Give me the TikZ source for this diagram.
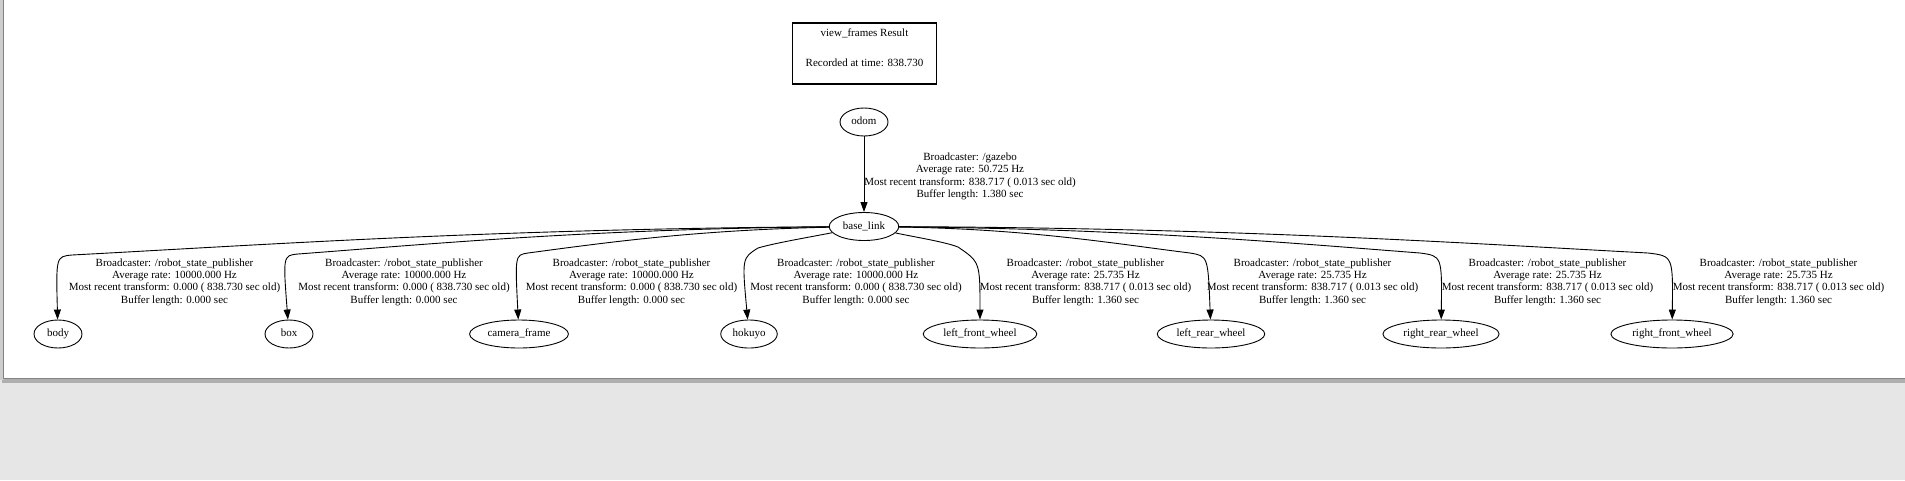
\documentclass[tikz,border=0pt]{standalone}
\usepackage{fontspec}
\setmainfont{Liberation Serif}
\usetikzlibrary{shapes.geometric,arrows.meta}
\definecolor{viewerbg}{RGB}{230,230,230}
\definecolor{pageedge}{RGB}{205,205,205}
\definecolor{pageshadow}{RGB}{130,130,130}
\definecolor{shadowband}{RGB}{175,175,175}
\newcommand\tffont{\fontsize{11}{12.3}\selectfont}
\tikzset{
  tfframe/.style={draw,ellipse,line width=0.9pt,minimum width=48pt,minimum height=28pt,
    inner xsep=3.5pt,text height=7.5pt,text depth=2.5pt,font=\tffont},
  tfinfo/.style={align=center,inner sep=0pt,font=\tffont},
  tfedge/.style={line width=0.9pt,-{Triangle[length=10pt,width=7pt]}},
  titlebox/.style={draw,line width=1.8pt,minimum width=144pt,minimum height=61pt}
}
\newcommand\tfinfo[5]{%
  \node[tfinfo] (#1) at (#2, 282) {Broadcaster: /robot\_state\_publisher\\
    Average rate: #3 Hz\\
    Most recent transform: #4\\
    Buffer length: #5 sec}
}

\begin{document}
\begin{tikzpicture}[x=1pt,y=-1pt]
        \useasboundingbox (0,0) rectangle (1905,480);
        % The viewer around the page
        \fill[viewerbg] (0,0) rectangle (1905,480);
        \fill[shadowband] (2,378) rectangle (1905,382.5);
        \fill[pageedge] (0,0) rectangle (3.5,380);
        \fill[white] (4,0) rectangle (1905,378);
        \draw[pageshadow,line width=1pt] (3.5,0) -- (3.5,378.5) -- (1905,378.5);

        % The title
        \node[titlebox] (title) at (864.5,53.5) {};
        \node[anchor=base,font=\tffont] (titlehead) at (864.5,36.5) {view\_frames Result};
        \node[anchor=base,font=\tffont] (titletime) at (864.5,66.5) {Recorded at time: 838.730};

        % The frames
        \node[tfframe] (odom) at (864,122) {odom};
        \node[tfframe] (baselink) at (864,226.5) {base\_link};
        \node[tfframe] (body) at (58,334) {body};
        \node[tfframe] (box) at (289,334) {box};
        \node[tfframe] (camera) at (519,334) {camera\_frame};
        \node[tfframe] (hokuyo) at (749,334) {hokuyo};
        \node[tfframe] (lfwheel) at (980,334) {left\_front\_wheel};
        \node[tfframe] (lrwheel) at (1211,334) {left\_rear\_wheel};
        \node[tfframe] (rrwheel) at (1441,334) {right\_rear\_wheel};
        \node[tfframe] (rfwheel) at (1672,334) {right\_front\_wheel};

        % The transforms
        \draw[tfedge] (odom) -- (baselink);
        \draw[tfedge] (baselink) .. controls (488,229) and (261,245) .. (72,255)
          .. controls (56,256.5) .. (body);
        \draw[tfedge] (baselink) .. controls (590,229) and (431,244) .. (298,254)
          .. controls (283,255.5) .. (box);
        \draw[tfedge] (baselink) .. controls (694,230) and (603,243) .. (528,253)
          .. controls (515,255) .. (camera);
        \draw[tfedge] (baselink) .. controls (805,238) and (775,243) .. (758,248)
          .. controls (742,258) .. (hokuyo);
        \draw[tfedge] (baselink) .. controls (920,238) and (945,242) .. (958,247)
          .. controls (980,262) .. (lfwheel);
        \draw[tfedge] (baselink) .. controls (1030,229) and (1117,244) .. (1190,253)
          .. controls (1208,256) .. (lrwheel);
        \draw[tfedge] (baselink) .. controls (1134,229) and (1290,243) .. (1420,253)
          .. controls (1442,256) .. (rrwheel);
        \draw[tfedge] (baselink) .. controls (1237,228) and (1461,243) .. (1648,253)
          .. controls (1673,256) .. (rfwheel);

        % The labels
        \node[tfinfo] (odominfo) at (970,176.5) {Broadcaster: /gazebo\\
          Average rate: 50.725 Hz\\
          Most recent transform: 838.717 ( 0.013 sec old)\\
          Buffer length: 1.380 sec};
        \tfinfo{bodyinfo}{174.5}{10000.000}{0.000 ( 838.730 sec old)}{0.000};
        \tfinfo{boxinfo}{404}{10000.000}{0.000 ( 838.730 sec old)}{0.000};
        \tfinfo{camerainfo}{631.5}{10000.000}{0.000 ( 838.730 sec old)}{0.000};
        \tfinfo{hokuyoinfo}{856}{10000.000}{0.000 ( 838.730 sec old)}{0.000};
        \tfinfo{lfwheelinfo}{1085.5}{25.735}{838.717 ( 0.013 sec old)}{1.360};
        \tfinfo{lrwheelinfo}{1312.5}{25.735}{838.717 ( 0.013 sec old)}{1.360};
        \tfinfo{rrwheelinfo}{1547.5}{25.735}{838.717 ( 0.013 sec old)}{1.360};
        \tfinfo{rfwheelinfo}{1778.5}{25.735}{838.717 ( 0.013 sec old)}{1.360};
    \end{tikzpicture}
\end{document}
